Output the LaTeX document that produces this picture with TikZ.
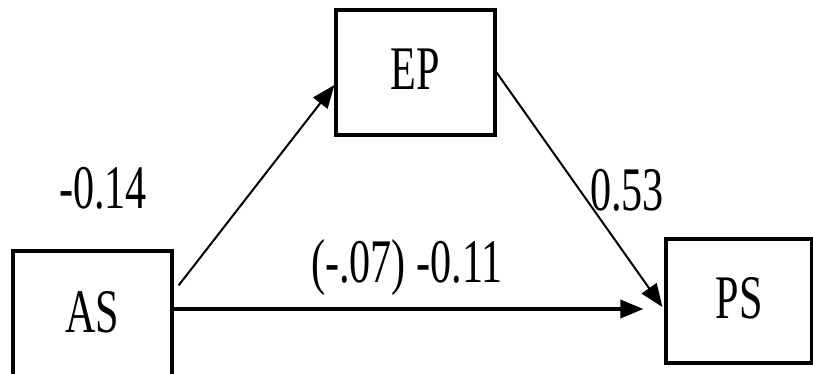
\documentclass[tikz,border=0pt]{standalone}
\usepackage{fontspec}
\setmainfont{Liberation Serif}[FakeStretch=0.68]
\usetikzlibrary{arrows.meta}

\begin{document}
\begin{tikzpicture}[x=1pt,y=-1pt,
    varbox/.style={draw,line width=3.2pt,inner sep=0pt,font=\fontsize{62}{70}\selectfont},
    coef/.style={inner sep=0pt,font=\fontsize{62}{70}\selectfont},
    path/.style={line width=2pt,-{Triangle[length=23pt,width=18pt]}}]
                \useasboundingbox (0,0) rectangle (813,373);
                % the three variables
                \node[varbox,minimum width=159pt,minimum height=134pt] (as) at (92.5,318) {\raisebox{12pt}{AS}};
                \node[varbox,minimum width=159pt,minimum height=125pt] (ep) at (415.5,72.5) {\raisebox{7pt}{EP}};
                \node[varbox,minimum width=146pt,minimum height=124pt] (ps) at (739,301) {\raisebox{6pt}{PS}};
                % paths
                \draw[path] ([xshift=5pt,yshift=-36pt]as.north east) -- ([yshift=-12.5pt]ep.west);
                \draw[path] (ep.east) -- ([xshift=-2pt,yshift=-6pt]ps.west);
                \draw[path,line width=3.5pt,shorten >=21pt] ([yshift=9pt]as.east) coordinate (h) -- (h -| ps.west);
                % coefficients
                \node[coef] (a) at (103,188) {-0.14};
                \node[coef] (b) at (627,190) {0.53};
                \node[coef] (c) at (407,268) {(-.07) -0.11};
            \end{tikzpicture}
\end{document}
